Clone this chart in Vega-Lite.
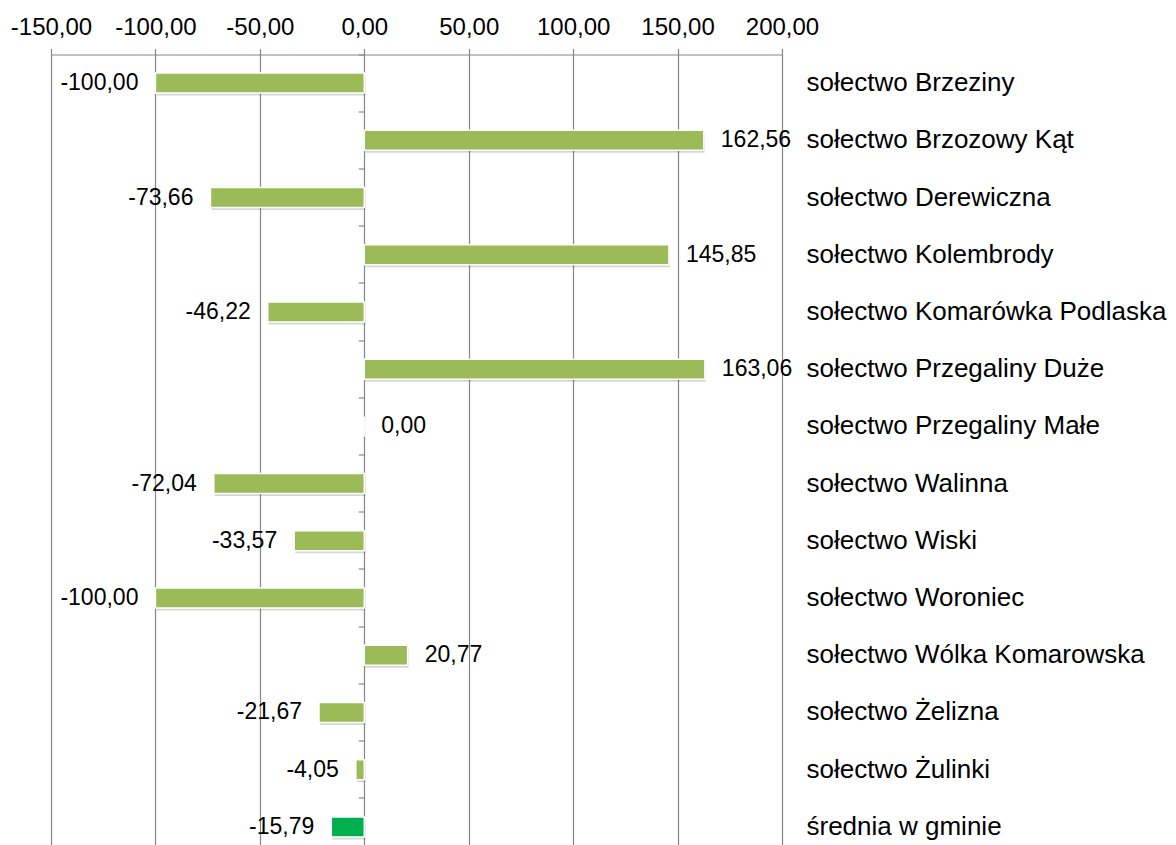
{
  "$schema": "https://vega.github.io/schema/vega-lite/v6.json",
  "width": 731,
  "height": 801,
  "autosize": {"type": "none"},
  "padding": {"left": 51, "top": 54.5, "right": 394, "bottom": 0},
  "data": {
    "values": [
      {"name": "sołectwo Brzeziny", "value": -100.00, "group": "sołectwo"},
      {"name": "sołectwo Brzozowy Kąt", "value": 162.56, "group": "sołectwo"},
      {"name": "sołectwo Derewiczna", "value": -73.66, "group": "sołectwo"},
      {"name": "sołectwo Kolembrody", "value": 145.85, "group": "sołectwo"},
      {"name": "sołectwo Komarówka Podlaska", "value": -46.22, "group": "sołectwo"},
      {"name": "sołectwo Przegaliny Duże", "value": 163.06, "group": "sołectwo"},
      {"name": "sołectwo Przegaliny Małe", "value": 0.00, "group": "sołectwo"},
      {"name": "sołectwo Walinna", "value": -72.04, "group": "sołectwo"},
      {"name": "sołectwo Wiski", "value": -33.57, "group": "sołectwo"},
      {"name": "sołectwo Woroniec", "value": -100.00, "group": "sołectwo"},
      {"name": "sołectwo Wólka Komarowska", "value": 20.77, "group": "sołectwo"},
      {"name": "sołectwo Żelizna", "value": -21.67, "group": "sołectwo"},
      {"name": "sołectwo Żulinki", "value": -4.05, "group": "sołectwo"},
      {"name": "średnia w gminie", "value": -15.79, "group": "gmina"}
    ]
  },
  "encoding": {
    "x": {
      "field": "value",
      "type": "quantitative",
      "scale": {"domain": [-150, 200], "nice": false, "zero": true},
      "axis": {
        "orient": "top",
        "values": [-150, -100, -50, 0, 50, 100, 150, 200],
        "format": ".2f",
        "grid": true,
        "gridColor": "#868686",
        "gridWidth": 1.2,
        "domainColor": "#868686",
        "domainWidth": 1.2,
        "tickColor": "#868686",
        "tickWidth": 1.2,
        "tickSize": 6,
        "labelFontSize": 24,
        "labelColor": "#000000",
        "labelPadding": 9,
        "labelFlush": false,
        "labelOverlap": false,
        "title": null
      }
    }
  },
  "layer": [
    {
      "mark": {"type": "bar", "height": {"band": 0.35}, "color": "#000000", "opacity": 0.16, "yOffset": 2.5, "xOffset": 1},
      "encoding": {
        "y": {
          "field": "name", "type": "nominal", "sort": null,
          "scale": {"paddingInner": 0, "paddingOuter": 0, "domain": ["sołectwo Brzeziny", "sołectwo Brzozowy Kąt", "sołectwo Derewiczna", "sołectwo Kolembrody", "sołectwo Komarówka Podlaska", "sołectwo Przegaliny Duże", "sołectwo Przegaliny Małe", "sołectwo Walinna", "sołectwo Wiski", "sołectwo Woroniec", "sołectwo Wólka Komarowska", "sołectwo Żelizna", "sołectwo Żulinki", "średnia w gminie"]},
          "axis": {"orient": "left", "offset": -313.3, "bandPosition": 0, "labels": false, "domain": false, "ticks": true, "tickSize": 6, "tickColor": "#868686", "tickWidth": 1.2, "grid": false, "title": null}
        }
      }
    },
    {
      "mark": {"type": "bar", "height": {"band": 0.35}, "stroke": "#ffffff", "strokeWidth": 1.5},
      "encoding": {
        "y": {
          "field": "name", "type": "nominal", "sort": null,
          "axis": {"orient": "right", "domain": false, "ticks": false, "grid": false, "labelFontSize": 26, "labelPadding": 24, "labelLimit": 0, "labelColor": "#000000", "title": null}
        },
        "color": {
          "field": "group", "type": "nominal",
          "scale": {"domain": ["sołectwo", "gmina"], "range": ["#9BBB59", "#00B050"]},
          "legend": null
        }
      }
    },
    {
      "transform": [{"filter": "datum.value >= 0"}],
      "mark": {"type": "text", "align": "left", "baseline": "middle", "dx": 17, "fontSize": 23, "color": "#000000"},
      "encoding": {
        "y": {"field": "name", "type": "nominal", "sort": null, "axis": null},
        "text": {"field": "value", "type": "quantitative", "format": ".2f"}
      }
    },
    {
      "transform": [{"filter": "datum.value < 0"}],
      "mark": {"type": "text", "align": "right", "baseline": "middle", "dx": -17, "fontSize": 23, "color": "#000000"},
      "encoding": {
        "y": {"field": "name", "type": "nominal", "sort": null, "axis": null},
        "text": {"field": "value", "type": "quantitative", "format": ".2f"}
      }
    }
  ],
  "resolve": {"axis": {"y": "independent"}},
  "config": {
    "view": {"stroke": null},
    "font": "Liberation Sans",
    "locale": {
      "number": {"decimal": ",", "thousands": "\u00a0", "grouping": [3], "currency": ["", " zł"], "minus": "-"}
    }
  }
}
